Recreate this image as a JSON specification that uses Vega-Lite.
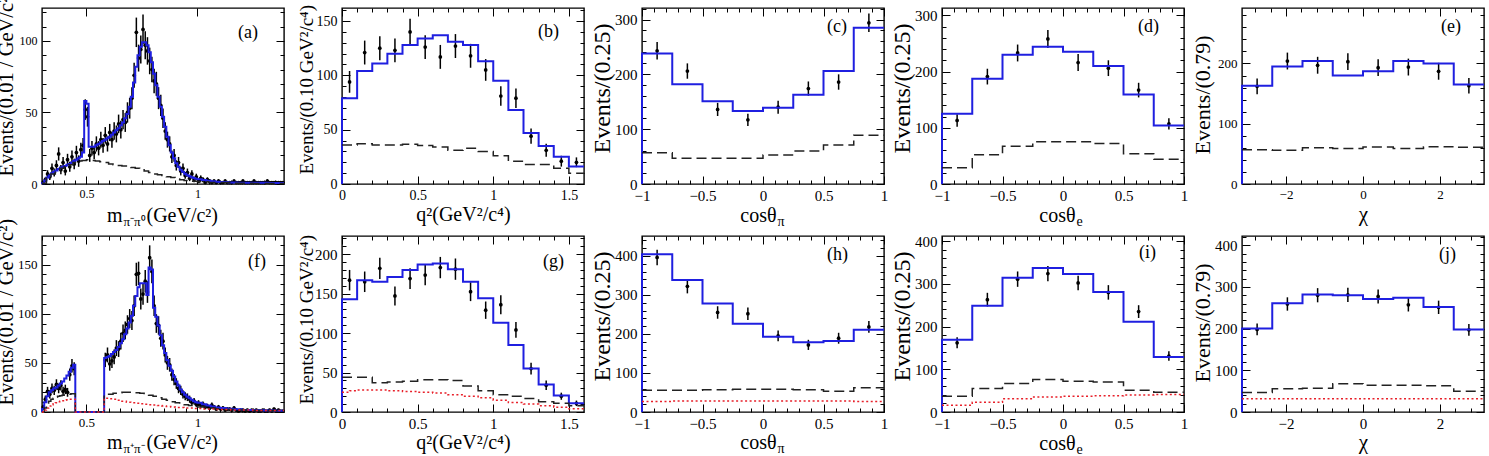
{
"$schema": "https://vega.github.io/schema/vega-lite/v6.json",
"background": "white",
"padding": {"left": -5, "top": -12, "right": 0, "bottom": 0},
"columns": 5,
"spacing": {"row": 52, "column": 58},
"bounds": "flush",
"datasets": {
"a_pts": [
{"x":0.305,"n":1,"err":1},{"x":0.315,"n":3,"err":1.7},{"x":0.325,"n":7,"err":2.6},{"x":0.335,"n":5,"err":2.2},{"x":0.345,"n":11,"err":3.3},{"x":0.355,"n":8,"err":2.8},{"x":0.365,"n":13,"err":3.6},{"x":0.375,"n":21,"err":4.6},{"x":0.385,"n":10,"err":3.2},{"x":0.395,"n":15,"err":3.9},
{"x":0.405,"n":9,"err":3},{"x":0.415,"n":17,"err":4.1},{"x":0.425,"n":12,"err":3.5},{"x":0.435,"n":19,"err":4.4},{"x":0.445,"n":14,"err":3.7},{"x":0.455,"n":22,"err":4.7},{"x":0.465,"n":16,"err":4},{"x":0.475,"n":24,"err":4.9},{"x":0.485,"n":27,"err":5.2},{"x":0.495,"n":52,"err":7.2},
{"x":0.505,"n":47,"err":6.9},{"x":0.515,"n":20,"err":4.5},{"x":0.525,"n":25,"err":5},{"x":0.535,"n":22,"err":4.7},{"x":0.545,"n":28,"err":5.3},{"x":0.555,"n":25,"err":5},{"x":0.565,"n":31,"err":5.6},{"x":0.575,"n":27,"err":5.2},{"x":0.585,"n":34,"err":5.8},{"x":0.595,"n":28,"err":5.3},
{"x":0.605,"n":36,"err":6},{"x":0.615,"n":31,"err":5.6},{"x":0.625,"n":37,"err":6.1},{"x":0.635,"n":35,"err":5.9},{"x":0.645,"n":42,"err":6.5},{"x":0.655,"n":38,"err":6.2},{"x":0.665,"n":45,"err":6.7},{"x":0.675,"n":43,"err":6.6},{"x":0.685,"n":50,"err":7.1},{"x":0.695,"n":53,"err":7.3},
{"x":0.705,"n":60,"err":7.7},{"x":0.715,"n":76,"err":8.7},{"x":0.725,"n":106,"err":10.3},{"x":0.735,"n":88,"err":9.4},{"x":0.745,"n":94,"err":9.7},{"x":0.755,"n":108,"err":10.4},{"x":0.765,"n":97,"err":9.8},{"x":0.775,"n":93,"err":9.6},{"x":0.785,"n":86,"err":9.3},{"x":0.795,"n":80,"err":8.9},
{"x":0.805,"n":72,"err":8.5},{"x":0.815,"n":70,"err":8.4},{"x":0.825,"n":60,"err":7.7},{"x":0.835,"n":55,"err":7.4},{"x":0.845,"n":46,"err":6.8},{"x":0.855,"n":37,"err":6.1},{"x":0.865,"n":31,"err":5.6},{"x":0.875,"n":28,"err":5.3},{"x":0.885,"n":19,"err":4.4},{"x":0.895,"n":20,"err":4.5},
{"x":0.905,"n":13,"err":3.6},{"x":0.915,"n":15,"err":3.9},{"x":0.925,"n":9,"err":3},{"x":0.935,"n":11,"err":3.3},{"x":0.945,"n":6,"err":2.4},{"x":0.955,"n":8,"err":2.8},{"x":0.965,"n":4,"err":2},{"x":0.975,"n":7,"err":2.6},{"x":0.985,"n":3,"err":1.7},{"x":0.995,"n":5,"err":2.2},
{"x":1.005,"n":2,"err":1.4},{"x":1.015,"n":4,"err":2},{"x":1.025,"n":3,"err":1.7},{"x":1.035,"n":1,"err":1},{"x":1.045,"n":3,"err":1.7},{"x":1.055,"n":2,"err":1.4},{"x":1.065,"n":1,"err":1},{"x":1.075,"n":2,"err":1.4},{"x":1.085,"n":1,"err":1},{"x":1.095,"n":2,"err":1.4},
{"x":1.105,"n":1,"err":1},{"x":1.115,"n":1,"err":1},{"x":1.125,"n":2,"err":1.4},{"x":1.135,"n":1,"err":1},{"x":1.145,"n":1,"err":1},{"x":1.155,"n":1,"err":1},{"x":1.165,"n":2,"err":1.4},{"x":1.175,"n":1,"err":1},{"x":1.185,"n":1,"err":1},{"x":1.195,"n":1,"err":1},
{"x":1.205,"n":2,"err":1.4},{"x":1.215,"n":1,"err":1},{"x":1.225,"n":1,"err":1},{"x":1.235,"n":1,"err":1},{"x":1.245,"n":1,"err":1},{"x":1.255,"n":2,"err":1.4},{"x":1.265,"n":1,"err":1},{"x":1.275,"n":1,"err":1},{"x":1.285,"n":1,"err":1},{"x":1.295,"n":1,"err":1},
{"x":1.305,"n":1,"err":1},{"x":1.315,"n":2,"err":1.4},{"x":1.325,"n":1,"err":1},{"x":1.335,"n":1,"err":1},{"x":1.345,"n":1,"err":1},{"x":1.355,"n":1,"err":1},{"x":1.365,"n":1,"err":1},{"x":1.375,"n":1,"err":1},{"x":1.385,"n":1,"err":1}
],
"a_fit": [
{"x":0.3,"y":0},{"x":0.3,"y":0.5},{"x":0.31,"y":2.5},{"x":0.32,"y":4.5},{"x":0.33,"y":6},{"x":0.34,"y":7.5},{"x":0.35,"y":8.5},{"x":0.36,"y":9.5},{"x":0.37,"y":10.5},{"x":0.38,"y":11.5},{"x":0.39,"y":12},
{"x":0.4,"y":12.5},{"x":0.41,"y":13.5},{"x":0.42,"y":14},{"x":0.43,"y":15},{"x":0.44,"y":16},{"x":0.45,"y":17},{"x":0.46,"y":18},{"x":0.47,"y":19},{"x":0.48,"y":22},{"x":0.49,"y":58},
{"x":0.5,"y":56},{"x":0.51,"y":26},{"x":0.52,"y":26},{"x":0.53,"y":26},{"x":0.54,"y":27},{"x":0.55,"y":28},{"x":0.56,"y":29},{"x":0.57,"y":30},{"x":0.58,"y":31},{"x":0.59,"y":32},
{"x":0.6,"y":33},{"x":0.61,"y":34.5},{"x":0.62,"y":36},{"x":0.63,"y":37.5},{"x":0.64,"y":39},{"x":0.65,"y":41},{"x":0.66,"y":43},{"x":0.67,"y":46},{"x":0.68,"y":49},{"x":0.69,"y":54},
{"x":0.7,"y":61},{"x":0.71,"y":71},{"x":0.72,"y":82},{"x":0.73,"y":90},{"x":0.74,"y":96},{"x":0.75,"y":99},{"x":0.76,"y":99},{"x":0.77,"y":97},{"x":0.78,"y":92},{"x":0.79,"y":85},
{"x":0.8,"y":77},{"x":0.81,"y":69},{"x":0.82,"y":61},{"x":0.83,"y":54},{"x":0.84,"y":47},{"x":0.85,"y":40},{"x":0.86,"y":33},{"x":0.87,"y":27},{"x":0.88,"y":22},{"x":0.89,"y":18},
{"x":0.9,"y":14.5},{"x":0.91,"y":12},{"x":0.92,"y":10},{"x":0.93,"y":8.5},{"x":0.94,"y":7.2},{"x":0.95,"y":6.2},{"x":0.96,"y":5.4},{"x":0.97,"y":4.8},{"x":0.98,"y":4.2},{"x":0.99,"y":3.7},
{"x":1.0,"y":3.3},{"x":1.02,"y":2.8},{"x":1.04,"y":2.3},{"x":1.06,"y":1.9},{"x":1.08,"y":1.6},{"x":1.1,"y":1.4},{"x":1.14,"y":1.1},{"x":1.18,"y":0.9},{"x":1.25,"y":0.8},{"x":1.32,"y":0.7},{"x":1.39,"y":0.7}
],
"a_bkg": [
{"x":0.3,"y":0.5},{"x":0.32,"y":4},{"x":0.34,"y":7},{"x":0.36,"y":9},{"x":0.38,"y":11},{"x":0.4,"y":12},{"x":0.42,"y":13.5},{"x":0.44,"y":15},{"x":0.46,"y":16},{"x":0.48,"y":16.5},
{"x":0.5,"y":17},{"x":0.52,"y":16.5},{"x":0.54,"y":16},{"x":0.56,"y":15.5},{"x":0.58,"y":15},{"x":0.6,"y":14},{"x":0.62,"y":13.5},{"x":0.64,"y":13},{"x":0.66,"y":12.5},{"x":0.68,"y":12},
{"x":0.7,"y":11.5},{"x":0.72,"y":11},{"x":0.74,"y":10},{"x":0.76,"y":9},{"x":0.78,"y":8},{"x":0.8,"y":7},{"x":0.82,"y":6.5},{"x":0.84,"y":6},{"x":0.86,"y":5},{"x":0.88,"y":4.5},
{"x":0.9,"y":3.5},{"x":0.92,"y":3},{"x":0.94,"y":2.5},{"x":0.96,"y":2},{"x":1.0,"y":1.5},{"x":1.05,"y":1},{"x":1.15,"y":0.6},{"x":1.25,"y":0.4},{"x":1.39,"y":0.4}
],
"b_pts": [
{"x":0.05,"n":94,"err":10},{"x":0.15,"n":121,"err":11},{"x":0.25,"n":125,"err":11},{"x":0.35,"n":123,"err":11},{"x":0.45,"n":140,"err":12},{"x":0.55,"n":126,"err":11},{"x":0.65,"n":117,"err":11},{"x":0.75,"n":127,"err":11},
{"x":0.85,"n":118,"err":11},{"x":0.95,"n":105,"err":10},{"x":1.05,"n":81,"err":9},{"x":1.15,"n":79,"err":9},{"x":1.25,"n":44,"err":7},{"x":1.35,"n":31,"err":6},{"x":1.45,"n":21,"err":5},{"x":1.55,"n":20,"err":4.5}
],
"b_fit": [
{"x":0,"y":0},{"x":0,"y":79},{"x":0.1,"y":104},{"x":0.2,"y":111},{"x":0.3,"y":120},{"x":0.4,"y":128},{"x":0.5,"y":134},{"x":0.6,"y":137},{"x":0.7,"y":131},{"x":0.8,"y":128},
{"x":0.9,"y":113},{"x":1.0,"y":95},{"x":1.1,"y":68},{"x":1.2,"y":47},{"x":1.3,"y":35},{"x":1.4,"y":25},{"x":1.5,"y":16},{"x":1.6,"y":16}
],
"b_bkg": [
{"x":0,"y":36},{"x":0.1,"y":37},{"x":0.2,"y":36},{"x":0.3,"y":36},{"x":0.4,"y":36.5},{"x":0.5,"y":35.5},{"x":0.6,"y":34},{"x":0.7,"y":31},{"x":0.8,"y":33},
{"x":0.9,"y":30},{"x":1.0,"y":26},{"x":1.1,"y":21},{"x":1.2,"y":18},{"x":1.3,"y":18},{"x":1.4,"y":14.5},{"x":1.5,"y":10},{"x":1.6,"y":10}
],
"c_pts": [
{"x":-0.875,"n":243,"err":16},{"x":-0.625,"n":206,"err":14},{"x":-0.375,"n":136,"err":12},{"x":-0.125,"n":117,"err":11},{"x":0.125,"n":140,"err":12},{"x":0.375,"n":174,"err":13},{"x":0.625,"n":186,"err":14},{"x":0.875,"n":294,"err":17}
],
"c_fit": [
{"x":-1,"y":0},{"x":-1,"y":238},{"x":-0.75,"y":182},{"x":-0.5,"y":151},{"x":-0.25,"y":133},{"x":0,"y":139},{"x":0.25,"y":163},{"x":0.5,"y":206},{"x":0.75,"y":285},{"x":1,"y":285}
],
"c_bkg": [
{"x":-1,"y":57},{"x":-0.75,"y":47},{"x":-0.5,"y":47},{"x":-0.25,"y":47},{"x":0,"y":53},{"x":0.25,"y":60},{"x":0.5,"y":71},{"x":0.75,"y":89},{"x":1,"y":89}
],
"d_pts": [
{"x":-0.875,"n":113,"err":11},{"x":-0.625,"n":191,"err":14},{"x":-0.375,"n":233,"err":15},{"x":-0.125,"n":258,"err":16},{"x":0.125,"n":216,"err":15},{"x":0.375,"n":206,"err":14},{"x":0.625,"n":167,"err":13},{"x":0.875,"n":107,"err":10}
],
"d_fit": [
{"x":-1,"y":0},{"x":-1,"y":125},{"x":-0.75,"y":187},{"x":-0.5,"y":230},{"x":-0.25,"y":244},{"x":0,"y":235},{"x":0.25,"y":210},{"x":0.5,"y":159},{"x":0.75,"y":104},{"x":1,"y":104}
],
"d_bkg": [
{"x":-1,"y":29},{"x":-0.75,"y":52},{"x":-0.5,"y":67},{"x":-0.25,"y":75},{"x":0,"y":75},{"x":0.25,"y":72},{"x":0.5,"y":54},{"x":0.75,"y":44},{"x":1,"y":44}
],
"e_pts": [
{"x":-2.749,"n":162,"err":13},{"x":-1.963,"n":204,"err":14},{"x":-1.178,"n":197,"err":14},{"x":-0.393,"n":203,"err":14},{"x":0.393,"n":193,"err":14},{"x":1.178,"n":194,"err":14},{"x":1.963,"n":187,"err":14},{"x":2.749,"n":163,"err":13}
],
"e_fit": [
{"x":-3.1416,"y":0},{"x":-3.1416,"y":163},{"x":-2.3562,"y":195},{"x":-1.5708,"y":204},{"x":-0.7854,"y":180},{"x":0,"y":187},{"x":0.7854,"y":204},{"x":1.5708,"y":200},{"x":2.3562,"y":165},{"x":3.1416,"y":165}
],
"e_bkg": [
{"x":-3.1416,"y":57},{"x":-2.3562,"y":56},{"x":-1.5708,"y":60},{"x":-0.7854,"y":59},{"x":0,"y":61.5},{"x":0.7854,"y":59},{"x":1.5708,"y":62},{"x":2.3562,"y":61},{"x":3.1416,"y":61}
],
"f_pts": [
{"x":0.305,"n":5,"err":2.2},{"x":0.315,"n":13,"err":3.6},{"x":0.325,"n":21,"err":4.6},{"x":0.335,"n":18,"err":4.2},{"x":0.345,"n":24,"err":4.9},{"x":0.355,"n":22,"err":4.7},{"x":0.365,"n":28,"err":5.3},{"x":0.375,"n":24,"err":4.9},{"x":0.385,"n":27,"err":5.2},{"x":0.395,"n":21,"err":4.6},
{"x":0.405,"n":23,"err":4.8},{"x":0.415,"n":20,"err":4.5},{"x":0.425,"n":38,"err":6.2},{"x":0.435,"n":47,"err":6.9},{"x":0.445,"n":44,"err":6.6},
{"x":0.585,"n":53,"err":7.3},{"x":0.595,"n":58,"err":7.6},{"x":0.605,"n":49,"err":7},{"x":0.615,"n":52,"err":7.2},{"x":0.625,"n":56,"err":7.5},{"x":0.635,"n":65,"err":8.1},{"x":0.645,"n":64,"err":8},{"x":0.655,"n":72,"err":8.5},{"x":0.665,"n":80,"err":8.9},{"x":0.675,"n":83,"err":9.1},
{"x":0.685,"n":89,"err":9.4},{"x":0.695,"n":95,"err":9.7},{"x":0.705,"n":93,"err":9.6},{"x":0.715,"n":108,"err":10.4},{"x":0.725,"n":140,"err":11.8},{"x":0.735,"n":141,"err":11.9},{"x":0.745,"n":115,"err":10.7},{"x":0.755,"n":120,"err":11},{"x":0.765,"n":133,"err":11.5},{"x":0.775,"n":122,"err":11},
{"x":0.785,"n":157,"err":12.5},{"x":0.795,"n":143,"err":12},{"x":0.805,"n":108,"err":10.4},{"x":0.815,"n":90,"err":9.5},{"x":0.825,"n":88,"err":9.4},{"x":0.835,"n":75,"err":8.7},{"x":0.845,"n":72,"err":8.5},{"x":0.855,"n":58,"err":7.6},{"x":0.865,"n":50,"err":7.1},{"x":0.875,"n":48,"err":6.9},
{"x":0.885,"n":38,"err":6.2},{"x":0.895,"n":33,"err":5.7},{"x":0.905,"n":29,"err":5.4},{"x":0.915,"n":24,"err":4.9},{"x":0.925,"n":22,"err":4.7},{"x":0.935,"n":18,"err":4.2},{"x":0.945,"n":16,"err":4},{"x":0.955,"n":15,"err":3.9},{"x":0.965,"n":13,"err":3.6},{"x":0.975,"n":10,"err":3.2},
{"x":0.985,"n":11,"err":3.3},{"x":0.995,"n":8,"err":2.8},{"x":1.005,"n":9,"err":3},{"x":1.015,"n":7,"err":2.6},{"x":1.025,"n":8,"err":2.8},{"x":1.035,"n":5,"err":2.2},{"x":1.045,"n":6,"err":2.4},{"x":1.055,"n":4,"err":2},{"x":1.065,"n":7,"err":2.6},{"x":1.075,"n":5,"err":2.2},
{"x":1.085,"n":3,"err":1.7},{"x":1.095,"n":5,"err":2.2},{"x":1.105,"n":3,"err":1.7},{"x":1.115,"n":4,"err":2},{"x":1.125,"n":2,"err":1.4},{"x":1.135,"n":3,"err":1.7},{"x":1.145,"n":3,"err":1.7},{"x":1.155,"n":2,"err":1.4},{"x":1.165,"n":4,"err":2},{"x":1.175,"n":2,"err":1.4},
{"x":1.185,"n":1,"err":1},{"x":1.195,"n":2,"err":1.4},{"x":1.205,"n":2,"err":1.4},{"x":1.215,"n":1,"err":1},{"x":1.225,"n":2,"err":1.4},{"x":1.235,"n":1,"err":1},{"x":1.245,"n":2,"err":1.4},{"x":1.255,"n":1,"err":1},{"x":1.265,"n":2,"err":1.4},{"x":1.275,"n":1,"err":1},
{"x":1.285,"n":1,"err":1},{"x":1.295,"n":2,"err":1.4},{"x":1.305,"n":1,"err":1},{"x":1.315,"n":1,"err":1},{"x":1.325,"n":2,"err":1.4},{"x":1.335,"n":1,"err":1},{"x":1.345,"n":3,"err":1.7},{"x":1.355,"n":1,"err":1},{"x":1.365,"n":2,"err":1.4},{"x":1.375,"n":1,"err":1},{"x":1.385,"n":1,"err":1}
],
"f_fit": [
{"x":0.3,"y":0},{"x":0.3,"y":3},{"x":0.31,"y":10},{"x":0.32,"y":16},{"x":0.33,"y":20},{"x":0.34,"y":22},{"x":0.35,"y":24},{"x":0.36,"y":25},{"x":0.37,"y":27},{"x":0.38,"y":29},{"x":0.39,"y":31},
{"x":0.4,"y":34},{"x":0.41,"y":37},{"x":0.42,"y":41},{"x":0.43,"y":45},{"x":0.44,"y":48},{"x":0.45,"y":0},
{"x":0.58,"y":55},{"x":0.59,"y":56},{"x":0.6,"y":57},{"x":0.61,"y":59},{"x":0.62,"y":61},{"x":0.63,"y":63},{"x":0.64,"y":66},{"x":0.65,"y":70},{"x":0.66,"y":74},{"x":0.67,"y":79},{"x":0.68,"y":85},{"x":0.69,"y":91},
{"x":0.7,"y":98},{"x":0.71,"y":108},{"x":0.72,"y":118},{"x":0.73,"y":127},{"x":0.74,"y":131},{"x":0.75,"y":131},{"x":0.76,"y":131},{"x":0.77,"y":119},{"x":0.78,"y":147},{"x":0.79,"y":145},
{"x":0.8,"y":106},{"x":0.81,"y":97},{"x":0.82,"y":88},{"x":0.83,"y":78},{"x":0.84,"y":68},{"x":0.85,"y":60},{"x":0.86,"y":53},{"x":0.87,"y":47},{"x":0.88,"y":42},{"x":0.89,"y":36},
{"x":0.9,"y":31},{"x":0.91,"y":27},{"x":0.92,"y":23},{"x":0.93,"y":20},{"x":0.94,"y":17.5},{"x":0.95,"y":15.5},{"x":0.96,"y":14},{"x":0.97,"y":12.5},{"x":0.98,"y":11},{"x":0.99,"y":10},
{"x":1.0,"y":9.5},{"x":1.02,"y":8},{"x":1.04,"y":6.5},{"x":1.06,"y":5.5},{"x":1.08,"y":4.5},{"x":1.1,"y":4},{"x":1.13,"y":3.3},{"x":1.16,"y":2.7},{"x":1.2,"y":2},{"x":1.25,"y":1.7},{"x":1.3,"y":1.5},{"x":1.35,"y":1.3},{"x":1.39,"y":1.3}
],
"f_bkg": [
{"x":0.3,"y":0},{"x":0.31,"y":4},{"x":0.32,"y":8},{"x":0.33,"y":11},{"x":0.34,"y":13},{"x":0.35,"y":14},{"x":0.36,"y":15},{"x":0.37,"y":16},{"x":0.38,"y":16.5},{"x":0.39,"y":17},{"x":0.4,"y":17.5},{"x":0.41,"y":18},{"x":0.42,"y":18},{"x":0.43,"y":18.5},{"x":0.44,"y":18.5},{"x":0.45,"y":0},
{"x":0.58,"y":17},{"x":0.6,"y":18},{"x":0.62,"y":19},{"x":0.64,"y":19.5},{"x":0.66,"y":20},{"x":0.68,"y":20},{"x":0.7,"y":20},{"x":0.72,"y":19.5},{"x":0.74,"y":19},{"x":0.76,"y":18},{"x":0.78,"y":17},{"x":0.8,"y":16},
{"x":0.82,"y":14.5},{"x":0.84,"y":13},{"x":0.86,"y":12},{"x":0.88,"y":10.5},{"x":0.9,"y":9.5},{"x":0.92,"y":8.5},{"x":0.94,"y":7.5},{"x":0.96,"y":6.5},{"x":0.98,"y":5.5},{"x":1.0,"y":5},{"x":1.04,"y":4},{"x":1.08,"y":3.2},
{"x":1.12,"y":2.6},{"x":1.16,"y":2},{"x":1.22,"y":1.6},{"x":1.3,"y":1.2},{"x":1.39,"y":1.2}
],
"f_sig2": [
{"x":0.3,"y":0},{"x":0.31,"y":2},{"x":0.32,"y":4},{"x":0.33,"y":6},{"x":0.34,"y":7.5},{"x":0.35,"y":8.5},{"x":0.36,"y":9.5},{"x":0.37,"y":10.5},{"x":0.38,"y":11},{"x":0.39,"y":11.5},{"x":0.4,"y":12},{"x":0.41,"y":12.5},{"x":0.42,"y":13},{"x":0.43,"y":13},{"x":0.44,"y":13},{"x":0.45,"y":0},
{"x":0.58,"y":14},{"x":0.6,"y":13.5},{"x":0.62,"y":13},{"x":0.64,"y":12},{"x":0.66,"y":11},{"x":0.68,"y":10},{"x":0.7,"y":9.5},{"x":0.72,"y":9},{"x":0.74,"y":8.5},{"x":0.76,"y":8},{"x":0.78,"y":7.5},{"x":0.8,"y":7},
{"x":0.82,"y":6.5},{"x":0.84,"y":6},{"x":0.86,"y":5.5},{"x":0.88,"y":5},{"x":0.9,"y":4.5},{"x":0.94,"y":4},{"x":0.98,"y":3.5},{"x":1.02,"y":3},{"x":1.08,"y":2.5},{"x":1.15,"y":2},{"x":1.25,"y":1.5},{"x":1.39,"y":1.5}
],
"g_pts": [
{"x":0.05,"n":167,"err":13},{"x":0.15,"n":165,"err":13},{"x":0.25,"n":182,"err":13.5},{"x":0.35,"n":147,"err":12},{"x":0.45,"n":169,"err":13},{"x":0.55,"n":173.5,"err":13},{"x":0.65,"n":183,"err":13.5},{"x":0.75,"n":181,"err":13.5},
{"x":0.85,"n":152.5,"err":12},{"x":0.95,"n":129,"err":11},{"x":1.05,"n":136,"err":12},{"x":1.15,"n":104,"err":10},{"x":1.25,"n":55,"err":7.5},{"x":1.35,"n":34,"err":6},{"x":1.45,"n":20,"err":4.5},{"x":1.55,"n":11,"err":3.5}
],
"g_fit": [
{"x":0,"y":0},{"x":0,"y":143},{"x":0.1,"y":167},{"x":0.2,"y":165},{"x":0.3,"y":171},{"x":0.4,"y":180},{"x":0.5,"y":187},{"x":0.6,"y":188},{"x":0.7,"y":181},{"x":0.8,"y":165},
{"x":0.9,"y":144},{"x":1.0,"y":113},{"x":1.1,"y":85},{"x":1.2,"y":55},{"x":1.3,"y":35},{"x":1.4,"y":21},{"x":1.5,"y":11},{"x":1.6,"y":11}
],
"g_bkg": [
{"x":0,"y":44},{"x":0.1,"y":44},{"x":0.2,"y":37},{"x":0.3,"y":38},{"x":0.4,"y":39},{"x":0.5,"y":41},{"x":0.6,"y":41},{"x":0.7,"y":40},{"x":0.8,"y":33},
{"x":0.9,"y":27},{"x":1.0,"y":22},{"x":1.1,"y":20},{"x":1.2,"y":17},{"x":1.3,"y":13},{"x":1.4,"y":11},{"x":1.5,"y":8},{"x":1.6,"y":8}
],
"g_sig2": [
{"x":0,"y":25},{"x":0.05,"y":27},{"x":0.1,"y":28},{"x":0.2,"y":28},{"x":0.3,"y":27},{"x":0.4,"y":26},{"x":0.5,"y":25},{"x":0.6,"y":24},{"x":0.7,"y":22},{"x":0.8,"y":20},
{"x":0.9,"y":18},{"x":1.0,"y":15},{"x":1.1,"y":12},{"x":1.2,"y":10},{"x":1.3,"y":8},{"x":1.4,"y":6},{"x":1.5,"y":4},{"x":1.6,"y":4}
],
"h_pts": [
{"x":-0.875,"n":396,"err":20},{"x":-0.625,"n":322,"err":18},{"x":-0.375,"n":255,"err":16},{"x":-0.125,"n":252,"err":16},{"x":0.125,"n":195,"err":14},{"x":0.375,"n":172,"err":13},{"x":0.625,"n":189,"err":14},{"x":0.875,"n":218,"err":15}
],
"h_fit": [
{"x":-1,"y":0},{"x":-1,"y":404},{"x":-0.75,"y":338},{"x":-0.5,"y":278},{"x":-0.25,"y":226},{"x":0,"y":193},{"x":0.25,"y":179},{"x":0.5,"y":182},{"x":0.75,"y":211},{"x":1,"y":211}
],
"h_bkg": [
{"x":-1,"y":56},{"x":-0.75,"y":56},{"x":-0.5,"y":57},{"x":-0.25,"y":58},{"x":0,"y":58},{"x":0.25,"y":57},{"x":0.5,"y":53},{"x":0.75,"y":62},{"x":1,"y":62}
],
"h_sig2": [
{"x":-1,"y":27},{"x":-0.75,"y":28},{"x":-0.5,"y":28},{"x":-0.25,"y":28},{"x":0,"y":28},{"x":0.25,"y":28},{"x":0.5,"y":28},{"x":0.75,"y":27},{"x":1,"y":27}
],
"i_pts": [
{"x":-0.875,"n":162,"err":13},{"x":-0.625,"n":263,"err":16},{"x":-0.375,"n":311,"err":18},{"x":-0.125,"n":324,"err":18},{"x":0.125,"n":302,"err":17},{"x":0.375,"n":280,"err":17},{"x":0.625,"n":235,"err":15},{"x":0.875,"n":131,"err":11}
],
"i_fit": [
{"x":-1,"y":0},{"x":-1,"y":169},{"x":-0.75,"y":249},{"x":-0.5,"y":314},{"x":-0.25,"y":337},{"x":0,"y":323},{"x":0.25,"y":281},{"x":0.5,"y":211},{"x":0.75,"y":129},{"x":1,"y":129}
],
"i_bkg": [
{"x":-1,"y":37},{"x":-0.75,"y":55},{"x":-0.5,"y":67},{"x":-0.25,"y":76},{"x":0,"y":72},{"x":0.25,"y":70},{"x":0.5,"y":51},{"x":0.75,"y":46},{"x":1,"y":46}
],
"i_sig2": [
{"x":-1,"y":16},{"x":-0.75,"y":23},{"x":-0.5,"y":31},{"x":-0.25,"y":35},{"x":0,"y":37},{"x":0.25,"y":38},{"x":0.5,"y":40},{"x":0.75,"y":41},{"x":1,"y":41}
],
"j_pts": [
{"x":-2.749,"n":198,"err":14},{"x":-1.963,"n":259,"err":16},{"x":-1.178,"n":280,"err":17},{"x":-0.393,"n":281,"err":17},{"x":0.393,"n":277,"err":17},{"x":1.178,"n":257,"err":16},{"x":1.963,"n":251,"err":16},{"x":2.749,"n":197,"err":14}
],
"j_fit": [
{"x":-3.1416,"y":0},{"x":-3.1416,"y":200},{"x":-2.3562,"y":261},{"x":-1.5708,"y":282},{"x":-0.7854,"y":280},{"x":0,"y":271},{"x":0.7854,"y":274},{"x":1.5708,"y":252},{"x":2.3562,"y":198},{"x":3.1416,"y":198}
],
"j_bkg": [
{"x":-3.1416,"y":47},{"x":-2.3562,"y":56},{"x":-1.5708,"y":57},{"x":-0.7854,"y":68},{"x":0,"y":64},{"x":0.7854,"y":64},{"x":1.5708,"y":63},{"x":2.3562,"y":50},{"x":3.1416,"y":50}
],
"j_sig2": [
{"x":-3.1416,"y":32},{"x":-2.3562,"y":32},{"x":-1.5708,"y":32},{"x":-0.7854,"y":32},{"x":0,"y":32},{"x":0.7854,"y":32},{"x":1.5708,"y":32},{"x":2.3562,"y":32},{"x":3.1416,"y":32}
]
},
"concat": [
{
"title": {"text": "(a)", "dx": -30, "dy": 57},
"width": 242, "height": 176,
"resolve": {"axis": {"x": "independent", "y": "independent"}},
"layer": [
{"data": {"name": "a_pts"}, "mark": {"type": "errorbar", "ticks": false, "color": "#000", "thickness": 1.5},
 "encoding": {
  "x": {"field": "x", "type": "quantitative", "scale": {"domain": [0.3, 1.39], "nice": false, "zero": false},
        "axis": {"orient": "bottom", "values": [0.5, 1], "format": "~f", "labelFontSize": 12, "title": "m", "titleFontSize": 20, "titleAlign": "right", "titleX": 80, "titleY": 37}},
  "y": {"field": "n", "type": "quantitative", "scale": {"domain": [0, 123], "nice": false},
        "axis": {"orient": "left", "values": [0, 50, 100], "format": "~f", "labelFontSize": 12, "title": "Events/(0.01 / GeV/c²)", "titleFontSize": 20.5, "titleAngle": -90, "titleAlign": "left", "titleX": -30, "titleY": 168}},
  "yError": {"field": "err"}}},
{"data": {"name": "a_pts"}, "mark": {"type": "circle", "color": "#000", "size": 14, "opacity": 1},
 "encoding": {
  "x": {"field": "x", "type": "quantitative", "axis": {"orient": "top", "values": [0.5, 1], "labels": false, "title": null}},
  "y": {"field": "n", "type": "quantitative", "axis": {"orient": "right", "values": [0, 50, 100], "labels": false, "title": null}}}},
{"data": {"name": "a_fit"}, "mark": {"type": "line", "interpolate": "step-after", "color": "#1f1fe0", "strokeWidth": 2},
 "encoding": {
  "x": {"field": "x", "type": "quantitative", "axis": {"orient": "bottom", "values": [0.3,0.35,0.4,0.45,0.55,0.6,0.65,0.7,0.75,0.8,0.85,0.9,0.95,1.05,1.1,1.15,1.2,1.25,1.3,1.35], "tickSize": -4, "labels": false, "title": "π⁻π⁰", "titleFontSize": 13, "titleAlign": "left", "titleX": 81, "titleY": 41}},
  "y": {"field": "y", "type": "quantitative", "axis": {"orient": "left", "values": [10,20,30,40,60,70,80,90,110,120], "tickSize": -4, "labels": false, "title": null}}}},
{"data": {"name": "a_bkg"}, "mark": {"type": "line", "interpolate": "step-after", "color": "#222", "strokeWidth": 1.5, "strokeDash": [10, 5]},
 "encoding": {
  "x": {"field": "x", "type": "quantitative", "axis": {"orient": "bottom", "ticks": false, "labels": false, "title": "(GeV/c²)", "titleFontSize": 20, "titleAlign": "left", "titleX": 104, "titleY": 37}},
  "y": {"field": "y", "type": "quantitative", "axis": {"orient": "right", "values": [10,20,30,40,60,70,80,90,110,120], "tickSize": -4, "labels": false, "title": null}}}}
]
},
{
"title": {"text": "(b)", "dx": -29, "dy": 41},
"width": 242, "height": 176,
"resolve": {"axis": {"x": "independent", "y": "independent"}},
"layer": [
{"data": {"name": "b_pts"}, "mark": {"type": "errorbar", "ticks": false, "color": "#000", "thickness": 1.5},
 "encoding": {
  "x": {"field": "x", "type": "quantitative", "scale": {"domain": [0, 1.6], "nice": false, "zero": false},
        "axis": {"orient": "bottom", "values": [0, 0.5, 1, 1.5], "format": "~f", "labelFontSize": 14, "title": "q²(GeV²/c⁴)", "titleFontSize": 20, "titleAlign": "center", "titleX": 121, "titleY": 36}},
  "y": {"field": "n", "type": "quantitative", "scale": {"domain": [0, 162], "nice": false},
        "axis": {"orient": "left", "values": [0, 50, 100, 150], "format": "~f", "labelFontSize": 14, "title": "Events/(0.10 GeV²/c⁴)", "titleFontSize": 19, "titleAngle": -90, "titleAlign": "left", "titleX": -30, "titleY": 166}},
  "yError": {"field": "err"}}},
{"data": {"name": "b_pts"}, "mark": {"type": "circle", "color": "#000", "size": 14, "opacity": 1},
 "encoding": {
  "x": {"field": "x", "type": "quantitative", "axis": {"orient": "top", "values": [0, 0.5, 1, 1.5], "labels": false, "title": null}},
  "y": {"field": "n", "type": "quantitative", "axis": {"orient": "right", "values": [0, 50, 100, 150], "labels": false, "title": null}}}},
{"data": {"name": "b_fit"}, "mark": {"type": "line", "interpolate": "step-after", "color": "#1f1fe0", "strokeWidth": 2},
 "encoding": {
  "x": {"field": "x", "type": "quantitative", "axis": {"orient": "bottom", "values": [0.1,0.2,0.3,0.4,0.6,0.7,0.8,0.9,1.1,1.2,1.3,1.4], "tickSize": -4, "labels": false, "title": null}},
  "y": {"field": "y", "type": "quantitative", "axis": {"orient": "left", "values": [10,20,30,40,60,70,80,90,110,120,130,140,160], "tickSize": -4, "labels": false, "title": null}}}},
{"data": {"name": "b_bkg"}, "mark": {"type": "line", "interpolate": "step-after", "color": "#222", "strokeWidth": 1.5, "strokeDash": [10, 5]},
 "encoding": {
  "x": {"field": "x", "type": "quantitative", "axis": {"orient": "top", "values": [0.1,0.2,0.3,0.4,0.6,0.7,0.8,0.9,1.1,1.2,1.3,1.4], "tickSize": -4, "labels": false, "title": null}},
  "y": {"field": "y", "type": "quantitative", "axis": {"orient": "right", "values": [10,20,30,40,60,70,80,90,110,120,130,140,160], "tickSize": -4, "labels": false, "title": null}}}}
]
},
{
"title": {"text": "(c)", "dx": -41},
"width": 242, "height": 176,
"resolve": {"axis": {"x": "independent", "y": "independent"}},
"layer": [
{"data": {"name": "c_pts"}, "mark": {"type": "errorbar", "ticks": false, "color": "#000", "thickness": 1.5},
 "encoding": {
  "x": {"field": "x", "type": "quantitative", "scale": {"domain": [-1, 1], "nice": false, "zero": false},
        "axis": {"orient": "bottom", "values": [-1, -0.5, 0, 0.5, 1], "format": "~f", "labelFontSize": 15, "title": "cosθ", "titleFontSize": 20, "titleAlign": "right", "titleX": 134, "titleY": 37}},
  "y": {"field": "n", "type": "quantitative", "scale": {"domain": [0, 321], "nice": false},
        "axis": {"orient": "left", "values": [0, 100, 200, 300], "format": "~f", "labelFontSize": 15, "title": "Events/(0.25)", "titleFontSize": 24, "titleAngle": -90, "titleAlign": "left", "titleX": -33, "titleY": 145}},
  "yError": {"field": "err"}}},
{"data": {"name": "c_pts"}, "mark": {"type": "circle", "color": "#000", "size": 14, "opacity": 1},
 "encoding": {
  "x": {"field": "x", "type": "quantitative", "axis": {"orient": "top", "values": [-1, -0.5, 0, 0.5, 1], "labels": false, "title": null}},
  "y": {"field": "n", "type": "quantitative", "axis": {"orient": "right", "values": [0, 100, 200, 300], "labels": false, "title": null}}}},
{"data": {"name": "c_fit"}, "mark": {"type": "line", "interpolate": "step-after", "color": "#1f1fe0", "strokeWidth": 2},
 "encoding": {
  "x": {"field": "x", "type": "quantitative", "axis": {"orient": "bottom", "values": [-0.9,-0.8,-0.7,-0.6,-0.4,-0.3,-0.2,-0.1,0.1,0.2,0.3,0.4,0.6,0.7,0.8,0.9], "tickSize": -4, "labels": false, "title": "π", "titleFontSize": 14, "titleAlign": "left", "titleX": 135, "titleY": 41}},
  "y": {"field": "y", "type": "quantitative", "axis": {"orient": "left", "values": [20,40,60,80,120,140,160,180,220,240,260,280,320], "tickSize": -4, "labels": false, "title": null}}}},
{"data": {"name": "c_bkg"}, "mark": {"type": "line", "interpolate": "step-after", "color": "#222", "strokeWidth": 1.5, "strokeDash": [10, 5]},
 "encoding": {
  "x": {"field": "x", "type": "quantitative", "axis": {"orient": "top", "values": [-0.9,-0.8,-0.7,-0.6,-0.4,-0.3,-0.2,-0.1,0.1,0.2,0.3,0.4,0.6,0.7,0.8,0.9], "tickSize": -4, "labels": false, "title": null}},
  "y": {"field": "y", "type": "quantitative", "axis": {"orient": "right", "values": [20,40,60,80,120,140,160,180,220,240,260,280,320], "tickSize": -4, "labels": false, "title": null}}}}
]
},
{
"title": {"text": "(d)", "dx": -29},
"width": 242, "height": 176,
"resolve": {"axis": {"x": "independent", "y": "independent"}},
"layer": [
{"data": {"name": "d_pts"}, "mark": {"type": "errorbar", "ticks": false, "color": "#000", "thickness": 1.5},
 "encoding": {
  "x": {"field": "x", "type": "quantitative", "scale": {"domain": [-1, 1], "nice": false, "zero": false},
        "axis": {"orient": "bottom", "values": [-1, -0.5, 0, 0.5, 1], "format": "~f", "labelFontSize": 15, "title": "cosθ", "titleFontSize": 20, "titleAlign": "right", "titleX": 133, "titleY": 37}},
  "y": {"field": "n", "type": "quantitative", "scale": {"domain": [0, 313], "nice": false},
        "axis": {"orient": "left", "values": [0, 100, 200, 300], "format": "~f", "labelFontSize": 15, "title": "Events/(0.25)", "titleFontSize": 24, "titleAngle": -90, "titleAlign": "left", "titleX": -33, "titleY": 145}},
  "yError": {"field": "err"}}},
{"data": {"name": "d_pts"}, "mark": {"type": "circle", "color": "#000", "size": 14, "opacity": 1},
 "encoding": {
  "x": {"field": "x", "type": "quantitative", "axis": {"orient": "top", "values": [-1, -0.5, 0, 0.5, 1], "labels": false, "title": null}},
  "y": {"field": "n", "type": "quantitative", "axis": {"orient": "right", "values": [0, 100, 200, 300], "labels": false, "title": null}}}},
{"data": {"name": "d_fit"}, "mark": {"type": "line", "interpolate": "step-after", "color": "#1f1fe0", "strokeWidth": 2},
 "encoding": {
  "x": {"field": "x", "type": "quantitative", "axis": {"orient": "bottom", "values": [-0.9,-0.8,-0.7,-0.6,-0.4,-0.3,-0.2,-0.1,0.1,0.2,0.3,0.4,0.6,0.7,0.8,0.9], "tickSize": -4, "labels": false, "title": "e", "titleFontSize": 14, "titleAlign": "left", "titleX": 134, "titleY": 41}},
  "y": {"field": "y", "type": "quantitative", "axis": {"orient": "left", "values": [20,40,60,80,120,140,160,180,220,240,260,280], "tickSize": -4, "labels": false, "title": null}}}},
{"data": {"name": "d_bkg"}, "mark": {"type": "line", "interpolate": "step-after", "color": "#222", "strokeWidth": 1.5, "strokeDash": [10, 5]},
 "encoding": {
  "x": {"field": "x", "type": "quantitative", "axis": {"orient": "top", "values": [-0.9,-0.8,-0.7,-0.6,-0.4,-0.3,-0.2,-0.1,0.1,0.2,0.3,0.4,0.6,0.7,0.8,0.9], "tickSize": -4, "labels": false, "title": null}},
  "y": {"field": "y", "type": "quantitative", "axis": {"orient": "right", "values": [20,40,60,80,120,140,160,180,220,240,260,280], "tickSize": -4, "labels": false, "title": null}}}}
]
},
{
"title": {"text": "(e)", "dx": -27},
"width": 242, "height": 176,
"resolve": {"axis": {"x": "independent", "y": "independent"}},
"layer": [
{"data": {"name": "e_pts"}, "mark": {"type": "errorbar", "ticks": false, "color": "#000", "thickness": 1.5},
 "encoding": {
  "x": {"field": "x", "type": "quantitative", "scale": {"domain": [-3.1416, 3.1416], "nice": false, "zero": false},
        "axis": {"orient": "bottom", "values": [-2, 0, 2], "format": "~f", "labelFontSize": 13, "title": "χ", "titleFontSize": 21, "titleAlign": "center", "titleX": 121, "titleY": 36}},
  "y": {"field": "n", "type": "quantitative", "scale": {"domain": [0, 292], "nice": false},
        "axis": {"orient": "left", "values": [0, 100, 200], "format": "~f", "labelFontSize": 13, "title": "Events/(0.79)", "titleFontSize": 22, "titleAngle": -90, "titleAlign": "left", "titleX": -33, "titleY": 146}},
  "yError": {"field": "err"}}},
{"data": {"name": "e_pts"}, "mark": {"type": "circle", "color": "#000", "size": 14, "opacity": 1},
 "encoding": {
  "x": {"field": "x", "type": "quantitative", "axis": {"orient": "top", "values": [-2, 0, 2], "labels": false, "title": null}},
  "y": {"field": "n", "type": "quantitative", "axis": {"orient": "right", "values": [0, 100, 200], "labels": false, "title": null}}}},
{"data": {"name": "e_fit"}, "mark": {"type": "line", "interpolate": "step-after", "color": "#1f1fe0", "strokeWidth": 2},
 "encoding": {
  "x": {"field": "x", "type": "quantitative", "axis": {"orient": "bottom", "values": [-2.8,-2.4,-1.6,-1.2,-0.8,-0.4,0.4,0.8,1.2,1.6,2.4,2.8], "tickSize": -4, "labels": false, "title": null}},
  "y": {"field": "y", "type": "quantitative", "axis": {"orient": "left", "values": [20,40,60,80,120,140,160,180,220,240,260,280], "tickSize": -4, "labels": false, "title": null}}}},
{"data": {"name": "e_bkg"}, "mark": {"type": "line", "interpolate": "step-after", "color": "#222", "strokeWidth": 1.5, "strokeDash": [10, 5]},
 "encoding": {
  "x": {"field": "x", "type": "quantitative", "axis": {"orient": "top", "values": [-2.8,-2.4,-1.6,-1.2,-0.8,-0.4,0.4,0.8,1.2,1.6,2.4,2.8], "tickSize": -4, "labels": false, "title": null}},
  "y": {"field": "y", "type": "quantitative", "axis": {"orient": "right", "values": [20,40,60,80,120,140,160,180,220,240,260,280], "tickSize": -4, "labels": false, "title": null}}}}
]
},
{
"title": {"text": "(f)", "dx": -22, "dy": 57},
"width": 242, "height": 176,
"resolve": {"axis": {"x": "independent", "y": "independent"}},
"layer": [
{"data": {"name": "f_pts"}, "mark": {"type": "errorbar", "ticks": false, "color": "#000", "thickness": 1.5},
 "encoding": {
  "x": {"field": "x", "type": "quantitative", "scale": {"domain": [0.3, 1.39], "nice": false, "zero": false},
        "axis": {"orient": "bottom", "values": [0.5, 1], "format": "~f", "labelFontSize": 13, "title": "m", "titleFontSize": 20, "titleAlign": "right", "titleX": 80, "titleY": 36}},
  "y": {"field": "n", "type": "quantitative", "scale": {"domain": [0, 179], "nice": false},
        "axis": {"orient": "left", "values": [0, 50, 100, 150], "format": "~f", "labelFontSize": 13, "title": "Events/(0.01 / GeV/c²)", "titleFontSize": 20.5, "titleAngle": -90, "titleAlign": "left", "titleX": -30, "titleY": 169}},
  "yError": {"field": "err"}}},
{"data": {"name": "f_pts"}, "mark": {"type": "circle", "color": "#000", "size": 14, "opacity": 1},
 "encoding": {
  "x": {"field": "x", "type": "quantitative", "axis": {"orient": "top", "values": [0.5, 1], "labels": false, "title": null}},
  "y": {"field": "n", "type": "quantitative", "axis": {"orient": "right", "values": [0, 50, 100, 150], "labels": false, "title": null}}}},
{"data": {"name": "f_fit"}, "mark": {"type": "line", "interpolate": "step-after", "color": "#1f1fe0", "strokeWidth": 2},
 "encoding": {
  "x": {"field": "x", "type": "quantitative", "axis": {"orient": "bottom", "values": [0.3,0.35,0.4,0.45,0.55,0.6,0.65,0.7,0.75,0.8,0.85,0.9,0.95,1.05,1.1,1.15,1.2,1.25,1.3,1.35], "tickSize": -4, "labels": false, "title": "π⁺π⁻", "titleFontSize": 13, "titleAlign": "left", "titleX": 81, "titleY": 40}},
  "y": {"field": "y", "type": "quantitative", "axis": {"orient": "left", "values": [10,20,30,40,60,70,80,90,110,120,130,140,160,170], "tickSize": -4, "labels": false, "title": null}}}},
{"data": {"name": "f_bkg"}, "mark": {"type": "line", "interpolate": "step-after", "color": "#222", "strokeWidth": 1.5, "strokeDash": [10, 5]},
 "encoding": {
  "x": {"field": "x", "type": "quantitative", "axis": {"orient": "bottom", "ticks": false, "labels": false, "title": "(GeV/c²)", "titleFontSize": 20, "titleAlign": "left", "titleX": 104, "titleY": 36}},
  "y": {"field": "y", "type": "quantitative", "axis": {"orient": "right", "values": [10,20,30,40,60,70,80,90,110,120,130,140,160,170], "tickSize": -4, "labels": false, "title": null}}}},
{"data": {"name": "f_sig2"}, "mark": {"type": "line", "interpolate": "step-after", "color": "#e8202a", "strokeWidth": 1.5, "strokeDash": [2, 2.5]},
 "encoding": {
  "x": {"field": "x", "type": "quantitative", "axis": {"orient": "top", "values": [0.3,0.35,0.4,0.45,0.55,0.6,0.65,0.7,0.75,0.8,0.85,0.9,0.95,1.05,1.1,1.15,1.2,1.25,1.3,1.35], "tickSize": -4, "labels": false, "title": null}},
  "y": {"field": "y", "type": "quantitative", "axis": null}}}
]
},
{
"title": {"text": "(g)", "dx": -24, "dy": 41},
"width": 242, "height": 176,
"resolve": {"axis": {"x": "independent", "y": "independent"}},
"layer": [
{"data": {"name": "g_pts"}, "mark": {"type": "errorbar", "ticks": false, "color": "#000", "thickness": 1.5},
 "encoding": {
  "x": {"field": "x", "type": "quantitative", "scale": {"domain": [0, 1.6], "nice": false, "zero": false},
        "axis": {"orient": "bottom", "values": [0, 0.5, 1, 1.5], "format": "~f", "labelFontSize": 15, "title": "q²(GeV²/c⁴)", "titleFontSize": 20, "titleAlign": "center", "titleX": 121, "titleY": 36}},
  "y": {"field": "n", "type": "quantitative", "scale": {"domain": [0, 223], "nice": false},
        "axis": {"orient": "left", "values": [0, 50, 100, 150, 200], "format": "~f", "labelFontSize": 15, "title": "Events/(0.10 GeV²/c⁴)", "titleFontSize": 19, "titleAngle": -90, "titleAlign": "left", "titleX": -30, "titleY": 168}},
  "yError": {"field": "err"}}},
{"data": {"name": "g_pts"}, "mark": {"type": "circle", "color": "#000", "size": 14, "opacity": 1},
 "encoding": {
  "x": {"field": "x", "type": "quantitative", "axis": {"orient": "top", "values": [0, 0.5, 1, 1.5], "labels": false, "title": null}},
  "y": {"field": "n", "type": "quantitative", "axis": {"orient": "right", "values": [0, 50, 100, 150, 200], "labels": false, "title": null}}}},
{"data": {"name": "g_fit"}, "mark": {"type": "line", "interpolate": "step-after", "color": "#1f1fe0", "strokeWidth": 2},
 "encoding": {
  "x": {"field": "x", "type": "quantitative", "axis": {"orient": "bottom", "values": [0.1,0.2,0.3,0.4,0.6,0.7,0.8,0.9,1.1,1.2,1.3,1.4], "tickSize": -4, "labels": false, "title": null}},
  "y": {"field": "y", "type": "quantitative", "axis": {"orient": "left", "values": [10,20,30,40,60,70,80,90,110,120,130,140,160,170,180,190,210,220], "tickSize": -4, "labels": false, "title": null}}}},
{"data": {"name": "g_bkg"}, "mark": {"type": "line", "interpolate": "step-after", "color": "#222", "strokeWidth": 1.5, "strokeDash": [10, 5]},
 "encoding": {
  "x": {"field": "x", "type": "quantitative", "axis": {"orient": "top", "values": [0.1,0.2,0.3,0.4,0.6,0.7,0.8,0.9,1.1,1.2,1.3,1.4], "tickSize": -4, "labels": false, "title": null}},
  "y": {"field": "y", "type": "quantitative", "axis": {"orient": "right", "values": [10,20,30,40,60,70,80,90,110,120,130,140,160,170,180,190,210,220], "tickSize": -4, "labels": false, "title": null}}}},
{"data": {"name": "g_sig2"}, "mark": {"type": "line", "interpolate": "step-after", "color": "#e8202a", "strokeWidth": 1.5, "strokeDash": [2, 2.5]},
 "encoding": {
  "x": {"field": "x", "type": "quantitative", "axis": null},
  "y": {"field": "y", "type": "quantitative", "axis": null}}}
]
},
{
"title": {"text": "(h)", "dx": -40},
"width": 242, "height": 176,
"resolve": {"axis": {"x": "independent", "y": "independent"}},
"layer": [
{"data": {"name": "h_pts"}, "mark": {"type": "errorbar", "ticks": false, "color": "#000", "thickness": 1.5},
 "encoding": {
  "x": {"field": "x", "type": "quantitative", "scale": {"domain": [-1, 1], "nice": false, "zero": false},
        "axis": {"orient": "bottom", "values": [-1, -0.5, 0, 0.5, 1], "format": "~f", "labelFontSize": 15, "title": "cosθ", "titleFontSize": 20, "titleAlign": "right", "titleX": 134, "titleY": 36}},
  "y": {"field": "n", "type": "quantitative", "scale": {"domain": [0, 451], "nice": false},
        "axis": {"orient": "left", "values": [0, 100, 200, 300, 400], "format": "~f", "labelFontSize": 15, "title": "Events/(0.25)", "titleFontSize": 24, "titleAngle": -90, "titleAlign": "left", "titleX": -33, "titleY": 145}},
  "yError": {"field": "err"}}},
{"data": {"name": "h_pts"}, "mark": {"type": "circle", "color": "#000", "size": 14, "opacity": 1},
 "encoding": {
  "x": {"field": "x", "type": "quantitative", "axis": {"orient": "top", "values": [-1, -0.5, 0, 0.5, 1], "labels": false, "title": null}},
  "y": {"field": "n", "type": "quantitative", "axis": {"orient": "right", "values": [0, 100, 200, 300, 400], "labels": false, "title": null}}}},
{"data": {"name": "h_fit"}, "mark": {"type": "line", "interpolate": "step-after", "color": "#1f1fe0", "strokeWidth": 2},
 "encoding": {
  "x": {"field": "x", "type": "quantitative", "axis": {"orient": "bottom", "values": [-0.9,-0.8,-0.7,-0.6,-0.4,-0.3,-0.2,-0.1,0.1,0.2,0.3,0.4,0.6,0.7,0.8,0.9], "tickSize": -4, "labels": false, "title": "π", "titleFontSize": 14, "titleAlign": "left", "titleX": 135, "titleY": 40}},
  "y": {"field": "y", "type": "quantitative", "axis": {"orient": "left", "values": [20,40,60,80,120,140,160,180,220,240,260,280,320,340,360,380,420,440], "tickSize": -4, "labels": false, "title": null}}}},
{"data": {"name": "h_bkg"}, "mark": {"type": "line", "interpolate": "step-after", "color": "#222", "strokeWidth": 1.5, "strokeDash": [10, 5]},
 "encoding": {
  "x": {"field": "x", "type": "quantitative", "axis": {"orient": "top", "values": [-0.9,-0.8,-0.7,-0.6,-0.4,-0.3,-0.2,-0.1,0.1,0.2,0.3,0.4,0.6,0.7,0.8,0.9], "tickSize": -4, "labels": false, "title": null}},
  "y": {"field": "y", "type": "quantitative", "axis": {"orient": "right", "values": [20,40,60,80,120,140,160,180,220,240,260,280,320,340,360,380,420,440], "tickSize": -4, "labels": false, "title": null}}}},
{"data": {"name": "h_sig2"}, "mark": {"type": "line", "interpolate": "step-after", "color": "#e8202a", "strokeWidth": 1.5, "strokeDash": [2, 2.5]},
 "encoding": {
  "x": {"field": "x", "type": "quantitative", "axis": null},
  "y": {"field": "y", "type": "quantitative", "axis": null}}}
]
},
{
"title": {"text": "(i)", "dx": -32},
"width": 242, "height": 176,
"resolve": {"axis": {"x": "independent", "y": "independent"}},
"layer": [
{"data": {"name": "i_pts"}, "mark": {"type": "errorbar", "ticks": false, "color": "#000", "thickness": 1.5},
 "encoding": {
  "x": {"field": "x", "type": "quantitative", "scale": {"domain": [-1, 1], "nice": false, "zero": false},
        "axis": {"orient": "bottom", "values": [-1, -0.5, 0, 0.5, 1], "format": "~f", "labelFontSize": 15, "title": "cosθ", "titleFontSize": 20, "titleAlign": "right", "titleX": 133, "titleY": 37}},
  "y": {"field": "n", "type": "quantitative", "scale": {"domain": [0, 412], "nice": false},
        "axis": {"orient": "left", "values": [0, 100, 200, 300, 400], "format": "~f", "labelFontSize": 15, "title": "Events/(0.25)", "titleFontSize": 24, "titleAngle": -90, "titleAlign": "left", "titleX": -33, "titleY": 145}},
  "yError": {"field": "err"}}},
{"data": {"name": "i_pts"}, "mark": {"type": "circle", "color": "#000", "size": 14, "opacity": 1},
 "encoding": {
  "x": {"field": "x", "type": "quantitative", "axis": {"orient": "top", "values": [-1, -0.5, 0, 0.5, 1], "labels": false, "title": null}},
  "y": {"field": "n", "type": "quantitative", "axis": {"orient": "right", "values": [0, 100, 200, 300, 400], "labels": false, "title": null}}}},
{"data": {"name": "i_fit"}, "mark": {"type": "line", "interpolate": "step-after", "color": "#1f1fe0", "strokeWidth": 2},
 "encoding": {
  "x": {"field": "x", "type": "quantitative", "axis": {"orient": "bottom", "values": [-0.9,-0.8,-0.7,-0.6,-0.4,-0.3,-0.2,-0.1,0.1,0.2,0.3,0.4,0.6,0.7,0.8,0.9], "tickSize": -4, "labels": false, "title": "e", "titleFontSize": 14, "titleAlign": "left", "titleX": 134, "titleY": 41}},
  "y": {"field": "y", "type": "quantitative", "axis": {"orient": "left", "values": [20,40,60,80,120,140,160,180,220,240,260,280,320,340,360,380], "tickSize": -4, "labels": false, "title": null}}}},
{"data": {"name": "i_bkg"}, "mark": {"type": "line", "interpolate": "step-after", "color": "#222", "strokeWidth": 1.5, "strokeDash": [10, 5]},
 "encoding": {
  "x": {"field": "x", "type": "quantitative", "axis": {"orient": "top", "values": [-0.9,-0.8,-0.7,-0.6,-0.4,-0.3,-0.2,-0.1,0.1,0.2,0.3,0.4,0.6,0.7,0.8,0.9], "tickSize": -4, "labels": false, "title": null}},
  "y": {"field": "y", "type": "quantitative", "axis": {"orient": "right", "values": [20,40,60,80,120,140,160,180,220,240,260,280,320,340,360,380], "tickSize": -4, "labels": false, "title": null}}}},
{"data": {"name": "i_sig2"}, "mark": {"type": "line", "interpolate": "step-after", "color": "#e8202a", "strokeWidth": 1.5, "strokeDash": [2, 2.5]},
 "encoding": {
  "x": {"field": "x", "type": "quantitative", "axis": null},
  "y": {"field": "y", "type": "quantitative", "axis": null}}}
]
},
{
"title": {"text": "(j)", "dx": -32},
"width": 242, "height": 176,
"resolve": {"axis": {"x": "independent", "y": "independent"}},
"layer": [
{"data": {"name": "j_pts"}, "mark": {"type": "errorbar", "ticks": false, "color": "#000", "thickness": 1.5},
 "encoding": {
  "x": {"field": "x", "type": "quantitative", "scale": {"domain": [-3.1416, 3.1416], "nice": false, "zero": false},
        "axis": {"orient": "bottom", "values": [-2, 0, 2], "format": "~f", "labelFontSize": 15, "title": "χ", "titleFontSize": 21, "titleAlign": "center", "titleX": 121, "titleY": 36}},
  "y": {"field": "n", "type": "quantitative", "scale": {"domain": [0, 422], "nice": false},
        "axis": {"orient": "left", "values": [0, 100, 200, 300, 400], "format": "~f", "labelFontSize": 15, "title": "Events/(0.79)", "titleFontSize": 22, "titleAngle": -90, "titleAlign": "left", "titleX": -33, "titleY": 146}},
  "yError": {"field": "err"}}},
{"data": {"name": "j_pts"}, "mark": {"type": "circle", "color": "#000", "size": 14, "opacity": 1},
 "encoding": {
  "x": {"field": "x", "type": "quantitative", "axis": {"orient": "top", "values": [-2, 0, 2], "labels": false, "title": null}},
  "y": {"field": "n", "type": "quantitative", "axis": {"orient": "right", "values": [0, 100, 200, 300, 400], "labels": false, "title": null}}}},
{"data": {"name": "j_fit"}, "mark": {"type": "line", "interpolate": "step-after", "color": "#1f1fe0", "strokeWidth": 2},
 "encoding": {
  "x": {"field": "x", "type": "quantitative", "axis": {"orient": "bottom", "values": [-2.8,-2.4,-1.6,-1.2,-0.8,-0.4,0.4,0.8,1.2,1.6,2.4,2.8], "tickSize": -4, "labels": false, "title": null}},
  "y": {"field": "y", "type": "quantitative", "axis": {"orient": "left", "values": [20,40,60,80,120,140,160,180,220,240,260,280,320,340,360,380,420], "tickSize": -4, "labels": false, "title": null}}}},
{"data": {"name": "j_bkg"}, "mark": {"type": "line", "interpolate": "step-after", "color": "#222", "strokeWidth": 1.5, "strokeDash": [10, 5]},
 "encoding": {
  "x": {"field": "x", "type": "quantitative", "axis": {"orient": "top", "values": [-2.8,-2.4,-1.6,-1.2,-0.8,-0.4,0.4,0.8,1.2,1.6,2.4,2.8], "tickSize": -4, "labels": false, "title": null}},
  "y": {"field": "y", "type": "quantitative", "axis": {"orient": "right", "values": [20,40,60,80,120,140,160,180,220,240,260,280,320,340,360,380,420], "tickSize": -4, "labels": false, "title": null}}}},
{"data": {"name": "j_sig2"}, "mark": {"type": "line", "interpolate": "step-after", "color": "#e8202a", "strokeWidth": 1.5, "strokeDash": [2, 2.5]},
 "encoding": {
  "x": {"field": "x", "type": "quantitative", "axis": null},
  "y": {"field": "y", "type": "quantitative", "axis": null}}}
]
}
],
"config": {
 "font": "Liberation Serif",
 "view": {"stroke": "#000", "strokeWidth": 1.4},
 "axis": {"domain": false, "grid": false, "tickColor": "#000", "tickWidth": 1, "tickSize": -8, "labelColor": "#000", "labelFont": "Liberation Serif", "labelFlush": false, "labelOverlap": false, "labelBound": false, "titleColor": "#000", "titleFont": "Liberation Serif", "titleFontWeight": "normal", "titleBaseline": "alphabetic", "titlePadding": 0},
 "axisX": {"labelPadding": 12},
 "axisY": {"labelPadding": 13},
 "title": {"font": "Liberation Serif", "fontWeight": "normal", "fontSize": 18, "color": "#000", "anchor": "end", "offset": 0, "dy": 32},
 "line": {"clip": true}
}
}
